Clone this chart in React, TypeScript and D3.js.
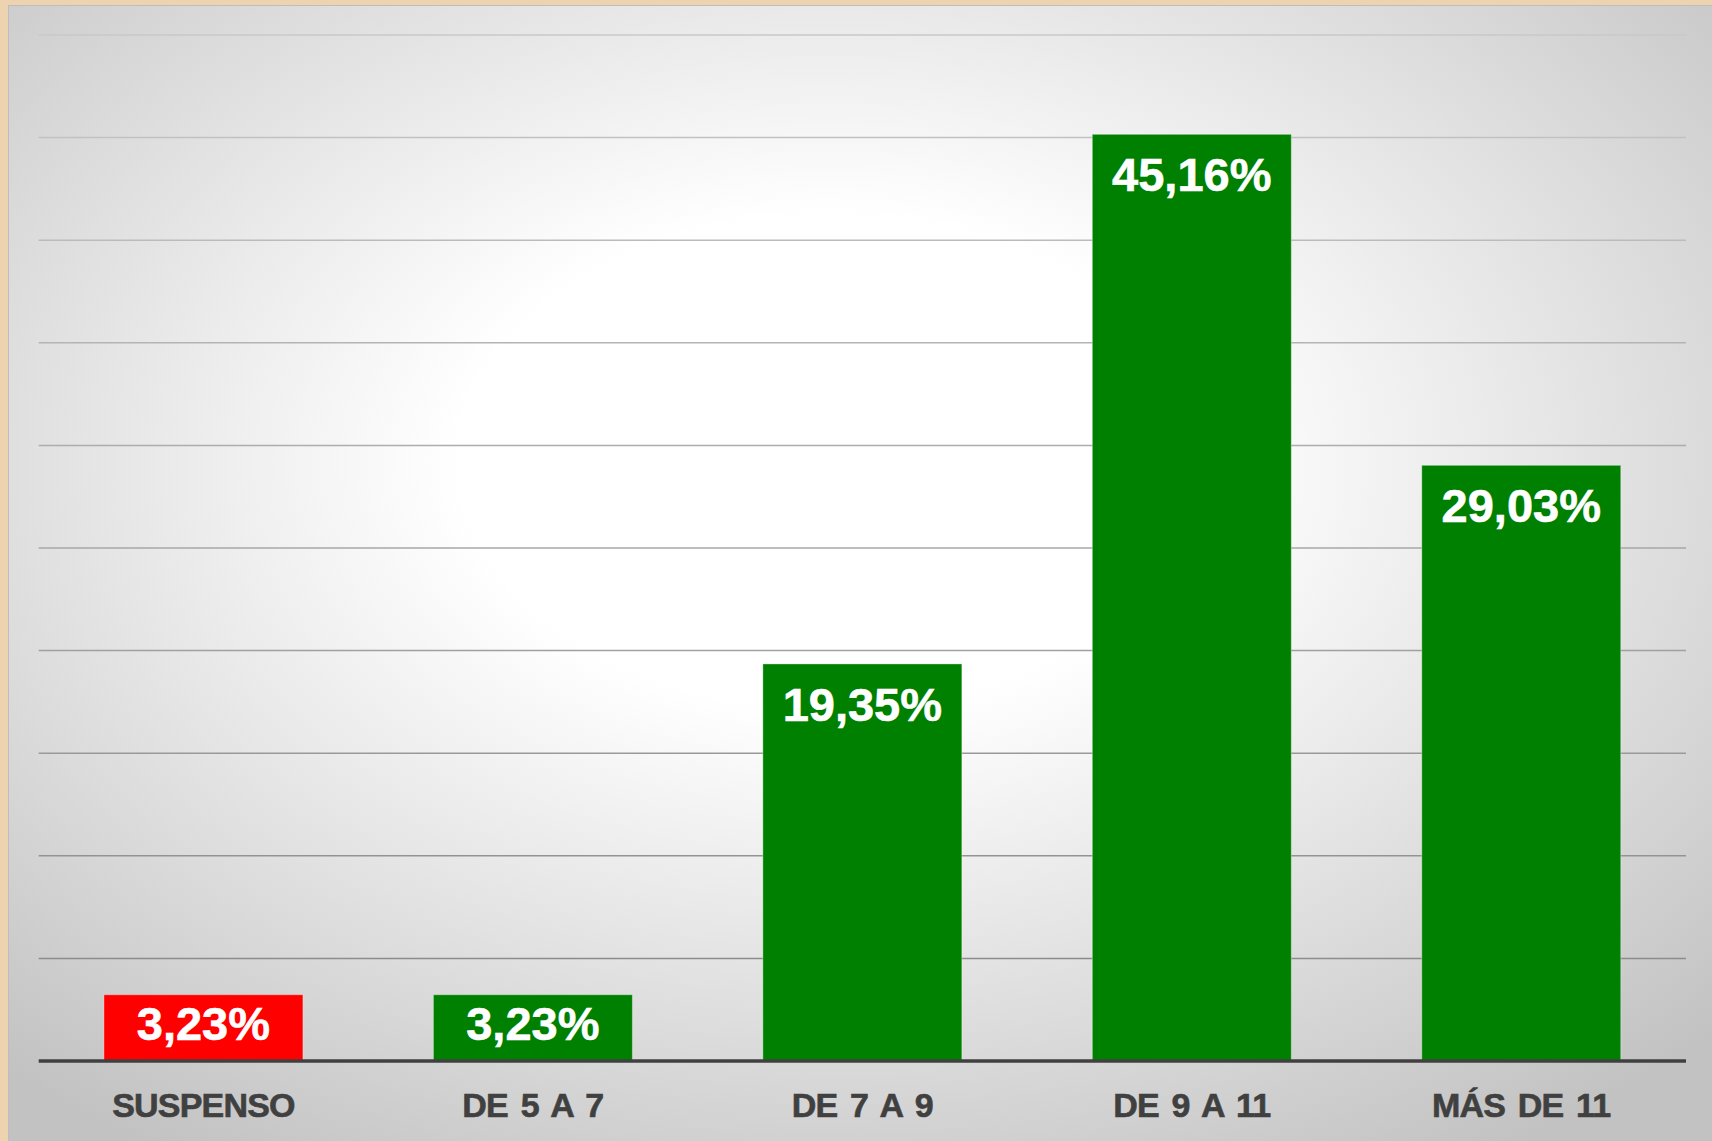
import React from "react";
import * as d3 from "d3";

const categories = ["SUSPENSO", "DE 5 A 7", "DE 7 A 9", "DE 9 A 11", "MÁS DE 11"];
const values = [3.23, 3.23, 19.35, 45.16, 29.03];
const valueLabels = ["3,23%", "3,23%", "19,35%", "45,16%", "29,03%"];
const barColors = ["#ff0000", "#008000", "#008000", "#008000", "#008000"];
const gridTicks = [5, 10, 15, 20, 25, 30, 35, 40, 45, 50];

const W = 1712;
const H = 1141;

export default function App() {
  const x = d3.scaleBand<string>().domain(categories).range([38.7, 1686]).paddingInner(0.396).paddingOuter(0.198);
  const y = d3.scaleLinear().domain([0, 50]).range([1061, 35]);
  const gridColor = d3.scaleLinear<string>().domain([50, 5]).range(["#c8c8c8", "#8c8c8c"]);

  return (
    <div style={{ position: "absolute", left: 0, top: 0 }}>
      <svg width={W} height={H} style={{ display: "block" }}>
        <defs>
          <radialGradient id="bg" cx="0.48" cy="0.4" r="0.72" fx="0.48" fy="0.4">
            <stop offset="0" stopColor="#ffffff" />
            <stop offset="0.3" stopColor="#ffffff" />
            <stop offset="1" stopColor="#c2c2c2" />
          </radialGradient>
        </defs>
        <rect x={0} y={0} width={W} height={H} fill="#edd3b0" />
        <rect x={8.5} y={5.5} width={W} height={H} fill="url(#bg)" stroke="#bdbdbd" strokeWidth={1} />
        {gridTicks.map((t) => (
          <line key={t} x1={38.7} x2={1686} y1={y(t)} y2={y(t)} stroke={gridColor(t)} strokeWidth={1.5} />
        ))}
        {categories.map((c, i) => {
          const top = y(values[i]);
          const h = y(0) - top;
          const base = top + Math.min(57, h * 0.68);
          return (
            <g key={c}>
              <rect
                x={x(c)}
                y={top}
                width={x.bandwidth()}
                height={h}
                fill={barColors[i]}
                stroke="rgba(255,255,255,0.35)"
                strokeWidth={1}
              />
              <text
                x={(x(c) as number) + x.bandwidth() / 2}
                y={base}
                textAnchor="middle"
                fill="#ffffff"
                stroke="#ffffff"
                strokeWidth={0.6}
                fontFamily="'Liberation Sans', Arial, sans-serif"
                fontWeight="bold"
                fontSize={47}
              >
                {valueLabels[i]}
              </text>
              <text
                x={(x(c) as number) + x.bandwidth() / 2}
                y={1117}
                textAnchor="middle"
                fill="#404040"
                stroke="#404040"
                strokeWidth={0.6}
                fontFamily="'Liberation Sans', Arial, sans-serif"
                fontWeight="bold"
                fontSize={34}
                letterSpacing={-0.8}
                wordSpacing={4}
              >
                {c}
              </text>
            </g>
          );
        })}
        <line x1={38.7} x2={1686} y1={y(0)} y2={y(0)} stroke="#404040" strokeWidth={3.5} />
      </svg>
    </div>
  );
}
